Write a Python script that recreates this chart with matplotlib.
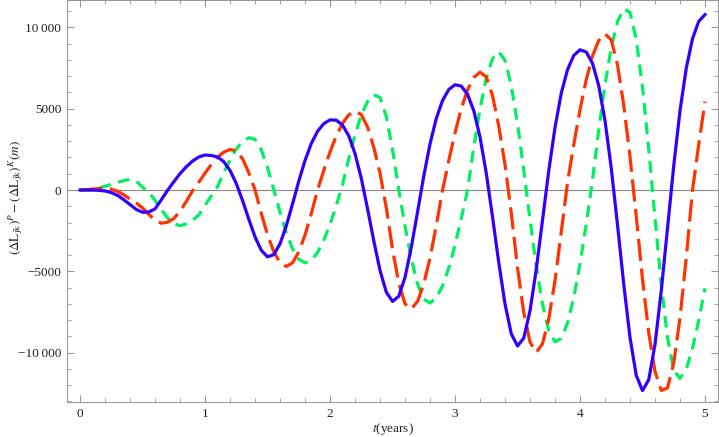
import numpy as np
import matplotlib

matplotlib.use("Agg")
import matplotlib.pyplot as plt
from matplotlib.ticker import MultipleLocator, FuncFormatter

# muestreo cada 0.05 años (0..5)
t_years = np.linspace(0, 5, 101)

blue_vals = [
    0, 0, -5, -20, -60, -160, -330, -600, -900, -1200,
    -1370, -1350, -1160, -600, -20, 510, 1010, 1430, 1780, 2030,
    2150, 2120, 2030, 1740, 1200, 390, -650, -1800, -2890, -3710,
    -4110, -3970, -3300, -2200, -850, 550, 1820, 2860, 3610, 4080,
    4310, 4290, 3990, 3320, 2230, 710, -1150, -3130, -4950, -6280,
    -6850, -6530, -5360, -3530, -1350, 870, 2840, 4400, 5500, 6180,
    6470, 6390, 5880, 4870, 3250, 1030, -1650, -4470, -7010, -8840,
    -9590, -9100, -7420, -4870, -1850, 1190, 3850, 5950, 7400, 8270,
    8620, 8480, 7780, 6410, 4260, 1340, -2150, -5800, -9070, -11400,
    -12330, -11660, -9490, -6200, -2350, 1500, 4870, 7490, 9300, 10370,
    10780,
]

red_vals = [
    0, 20, 60, 90, 90, 50, -80, -300, -560, -800,
    -1100, -1500, -1850, -2040, -1980, -1750, -1300, -700, -50, 480,
    1040, 1570, 2020, 2330, 2490, 2410, 1920, 1060, 0, -1450,
    -2760, -3800, -4470, -4700, -4470, -3800, -2760, -1450, 0, 1210,
    2350, 3330, 4110, 4620, 4835, 4640, 3870, 2620, 1030, -1090,
    -3660, -5730, -7000, -7310, -6850, -5760, -4170, -2170, 0, 1810,
    3520, 5000, 6160, 6920, 7245, 6950, 5800, 3920, 1540, -1420,
    -4780, -7540, -9350, -9980, -9450, -7920, -5550, -2580, 470, 2790,
    4940, 6790, 8240, 9200, 9600, 9220, 7690, 5200, 2040, -1620,
    -5500, -8790, -11150, -12320, -12170, -10630, -7850, -4160, 0, 2800,
    5430,
]

green_vals = [
    0, 0, 30, 120, 230, 350, 470, 580, 650, 540,
    170, -150, -640, -1200, -1720, -2080, -2190, -2090, -1850, -1540,
    -930, -360, 210, 1070, 1870, 2530, 2980, 3210, 3120, 2470,
    1370, 0, -1380, -2630, -3620, -4260, -4480, -4320, -3840, -3080,
    -2100, -960, 330, 1940, 3410, 4610, 5440, 5850, 5690, 4510,
    2490, 0, -2230, -4230, -5780, -6710, -6945, -6630, -5900, -4790,
    -3380, -1740, 0, 2630, 5000, 6880, 8080, 8500, 7960, 6420,
    4070, 1210, -1820, -4680, -7030, -8640, -9330, -9120, -8180, -6610,
    -4530, -2090, 630, 3700, 6480, 8760, 10350, 11130, 10920, 9250,
    6320, 2500, -1730, -5800, -9070, -11090, -11580, -11030, -9730, -8000,
    -6040,
]

plt.rcParams["font.family"] = ["Liberation Serif", "DejaVu Serif"]
plt.rcParams["mathtext.fontset"] = "stix"
plt.rcParams["lines.scale_dashes"] = False


def y_fmt(v, _pos):
    n = int(round(abs(v)))
    s = f"{n:,}".replace(",", "\u2009") if n >= 10000 else str(n)
    return ("\u2212" + s) if v < 0 else s


fig = plt.figure(figsize=(7.19, 4.37), dpi=100)
ax = fig.add_axes([0.0928, 0.0794, 0.9065, 0.9195])

ax.axhline(0, color="#888888", lw=0.8, zorder=1)
ax.plot(t_years, green_vals, color="#00f060", lw=2.3, dashes=(8.5, 5.5), zorder=2)
ax.plot(t_years, red_vals, color="#ff3300", lw=2.3, dashes=(16, 5.5), zorder=3)
ax.plot(t_years, blue_vals, color="#3300ff", lw=2.3, zorder=4)

ax.set_xlim(-0.107, 5.108)
ax.set_ylim(-13050, 11650)

ax.xaxis.set_major_locator(MultipleLocator(1))
ax.xaxis.set_minor_locator(MultipleLocator(0.2))
ax.yaxis.set_major_locator(MultipleLocator(5000))
ax.yaxis.set_minor_locator(MultipleLocator(1000))
ax.yaxis.set_major_formatter(FuncFormatter(y_fmt))

for sp in ax.spines.values():
    sp.set_color("#999999")
    sp.set_linewidth(0.8)
ax.tick_params(which="both", direction="in", top=True, right=True,
               color="#999999", labelsize=9.5, labelcolor="#222222")
ax.tick_params(which="major", length=5, width=0.8, pad=4)
ax.tick_params(which="minor", length=3, width=0.6)

ax.set_xlabel(r"$t$(years)", fontsize=9.5, color="#222222")
ax.xaxis.set_label_coords(0.5, -0.046)
ax.set_ylabel(r"$(\Delta\mathrm{L}_{\mathrm{jk}})^{P}-(\Delta\mathrm{L}_{\mathrm{jk}})^{K}(m)$",
              fontsize=9.5, color="#222222")
ax.yaxis.set_label_coords(-0.064, 0.511)

fig.savefig("out.png", dpi=100)
